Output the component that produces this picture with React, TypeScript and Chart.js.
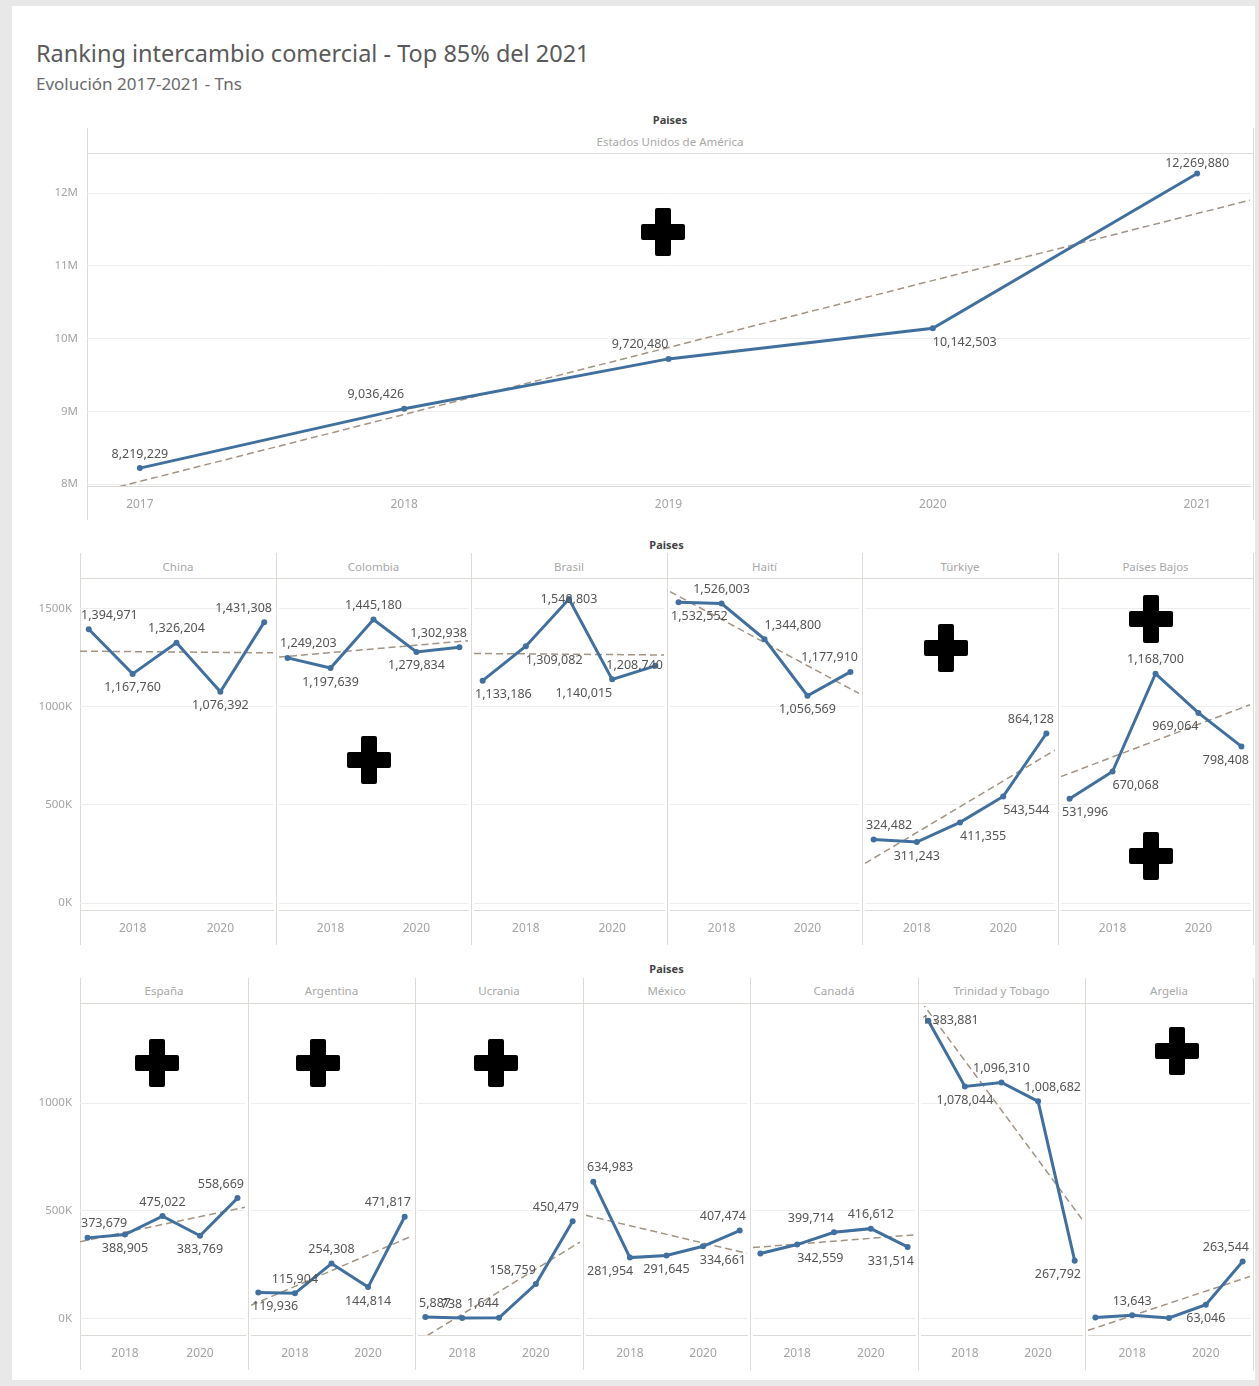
import React, { useEffect, useRef } from 'react';
import { Chart, registerables } from 'chart.js';

Chart.register(...registerables);

// ---------------- DATA ----------------
const YEARS = [2017, 2018, 2019, 2020, 2021];

const USA_VALUES = [8219229, 9036426, 9720480, 10142503, 12269880];

const CHINA_VALUES = [1394971, 1167760, 1326204, 1076392, 1431308];
const COLOMBIA_VALUES = [1249203, 1197639, 1445180, 1279834, 1302938];
const BRASIL_VALUES = [1133186, 1309082, 1548803, 1140015, 1208740];
const HAITI_VALUES = [1532552, 1526003, 1344800, 1056569, 1177910];
const TURKIYE_VALUES = [324482, 311243, 411355, 543544, 864128];
const PAISES_BAJOS_VALUES = [531996, 670068, 1168700, 969064, 798408];

const ESPANA_VALUES = [373679, 388905, 475022, 383769, 558669];
const ARGENTINA_VALUES = [119936, 115904, 254308, 144814, 471817];
const UCRANIA_VALUES = [5887, 738, 1644, 158759, 450479];
const MEXICO_VALUES = [634983, 281954, 291645, 334661, 407474];
const CANADA_VALUES = [300941, 342559, 399714, 416612, 331514];
const TRINIDAD_VALUES = [1383881, 1078044, 1096310, 1008682, 267792];
const ARGELIA_VALUES = [3163, 13643, 1248, 63046, 263544];

const ROW1_NAMES = ['Estados Unidos de América'];
const ROW2_NAMES = ['China', 'Colombia', 'Brasil', 'Haití', 'Türkiye', 'Países Bajos'];
const ROW3_NAMES = ['España', 'Argentina', 'Ucrania', 'México', 'Canadá', 'Trinidad y Tobago', 'Argelia'];

const ROW1_SERIES = [USA_VALUES];
const ROW2_SERIES = [CHINA_VALUES, COLOMBIA_VALUES, BRASIL_VALUES, HAITI_VALUES, TURKIYE_VALUES, PAISES_BAJOS_VALUES];
const ROW3_SERIES = [ESPANA_VALUES, ARGENTINA_VALUES, UCRANIA_VALUES, MEXICO_VALUES, CANADA_VALUES, TRINIDAD_VALUES, ARGELIA_VALUES];

const USA_Y_TICKS = [8000000, 9000000, 10000000, 11000000, 12000000];
const ROW2_Y_TICKS = [0, 500000, 1000000, 1500000];
const ROW3_Y_TICKS = [0, 500000, 1000000];
const USA_X_TICKS = [2017, 2018, 2019, 2020, 2021];
const SMALL_X_TICKS = [2018, 2020];

// ---------------- LABEL PLACEMENT (style) ----------------
const ROW1_LABEL_POS = [['t', 'tl', 'tl', 'br', 't']];
const ROW2_LABEL_POS = [
  ['t', 'b', 't', 'b', 't'],
  ['t', 'b', 't', 'b', 't'],
  ['b', 'br', 'c', 'bl', 'c'],
  ['b', 't', 'tr', 'b', 't'],
  ['t', 'b', 'br', 'br', 't'],
  ['b', 'br', 't', 'bl', 'b'],
];
const ROW3_LABEL_POS = [
  ['t', 'b', 't', 'b', 't'],
  ['b', 't', 't', 'b', 't'],
  ['t', 'tl', 'tl', 'tl', 't'],
  ['t', 'bl', 'b', 'br', 't'],
  ['', 'br', 'tl', 't', 'b'],
  ['c', 'b', 't', 'tr', 'b'],
  ['', 't', '', 'b', 't'],
];

// ---------------- STYLE ----------------
const FONT = '"Noto Sans", sans-serif';
const LINE_COLOR = '#41709f';
const TREND_COLOR = '#a39484';
const GRID_COLOR = '#eeeeee';
const RULE_COLOR = '#dedad6';
const AXIS_TEXT = '#a4a4a4';
const LABEL_TEXT = '#555555';
const X_MIN = 2016.8;
const X_MAX = 2021.2;

const ROWS = [
  { names: ROW1_NAMES, series: ROW1_SERIES, labelPos: ROW1_LABEL_POS, top: 153, bottom: 486, left: 87, right: 1253,
    yMin: 7973000, yMax: 12510000, yTicks: USA_Y_TICKS, xTicks: USA_X_TICKS, fmt: (v: number) => v / 1000000 + 'M', yPad: 9,
    headerY: 119, nameY: 142, lineTop: 128, lineBottom: 520 },
  { names: ROW2_NAMES, series: ROW2_SERIES, labelPos: ROW2_LABEL_POS, top: 578, bottom: 910, left: 80, right: 1253,
    yMin: -35000, yMax: 1641000, yTicks: ROW2_Y_TICKS, xTicks: SMALL_X_TICKS, fmt: (v: number) => v / 1000 + 'K', yPad: 8,
    headerY: 544, nameY: 567, lineTop: 553, lineBottom: 945 },
  { names: ROW3_NAMES, series: ROW3_SERIES, labelPos: ROW3_LABEL_POS, top: 1003, bottom: 1335, left: 80, right: 1253,
    yMin: -78000, yMax: 1452000, yTicks: ROW3_Y_TICKS, xTicks: SMALL_X_TICKS, fmt: (v: number) => v / 1000 + 'K', yPad: 8,
    headerY: 968, nameY: 991, lineTop: 978, lineBottom: 1370 },
];

const CROSS_CENTERS = [
  [663, 232], [369, 760], [946, 648], [1151, 619], [1151, 856],
  [157, 1063], [318, 1063], [496, 1063], [1177, 1051],
];

function linearTrend(xs: number[], ys: number[]) {
  const n = xs.length;
  const mx = xs.reduce((a, b) => a + b, 0) / n;
  const my = ys.reduce((a, b) => a + b, 0) / n;
  let sxy = 0, sxx = 0;
  for (let i = 0; i < n; i++) { sxy += (xs[i] - mx) * (ys[i] - my); sxx += (xs[i] - mx) ** 2; }
  const b = sxy / sxx;
  return [X_MIN, X_MAX].map((x) => ({ x, y: my + b * (x - mx) }));
}

type PanelProps = {
  values: number[]; labelPos: string[]; canvasLeft: number; canvasTop: number; width: number; height: number;
  yAxisWidth: number; row: any;
};

function Panel(p: PanelProps) {
  const ref = useRef<HTMLCanvasElement>(null);
  useEffect(() => {
    const row = p.row;
    const labelPlugin = {
      id: 'pointLabels',
      afterDatasetsDraw(chart: any) {
        const meta = chart.getDatasetMeta(0);
        const ctx = chart.ctx;
        const { left, right, top, bottom } = chart.chartArea;
        ctx.save();
        ctx.font = '12.5px ' + FONT;
        ctx.fillStyle = LABEL_TEXT;
        ctx.textBaseline = 'middle';
        ctx.textAlign = 'left';
        meta.data.forEach((pt: any, i: number) => {
          const pos = p.labelPos[i];
          if (!pos) return;
          const text = p.values[i].toLocaleString('en-US');
          const w = ctx.measureText(text).width;
          const off = 14;
          let lx = pt.x - w / 2;
          let y = pt.y;
          if (pos[0] === 't') y = pt.y - off;
          if (pos[0] === 'b') y = pt.y + off;
          const h = pos.length > 1 ? pos[1] : pos;
          if (h === 'l') lx = pt.x - w;
          if (h === 'r') lx = pt.x;
          lx = Math.max(left + 1, Math.min(right - w - 1, lx));
          y = Math.max(top + 7, Math.min(bottom - 7, y));
          ctx.fillText(text, lx, y);
        });
        ctx.restore();
      },
    };
    const chart = new Chart(ref.current!, {
      type: 'line',
      data: {
        datasets: [
          {
            data: YEARS.map((x, i) => ({ x, y: p.values[i] })),
            borderColor: LINE_COLOR, backgroundColor: LINE_COLOR, borderWidth: 3,
            pointRadius: 3, pointHoverRadius: 3, pointBorderWidth: 0, tension: 0, order: 0,
          },
          {
            data: linearTrend(YEARS, p.values),
            borderColor: TREND_COLOR, borderWidth: 1.5, borderDash: [7, 4], pointRadius: 0, order: 1,
          },
        ],
      },
      options: {
        responsive: false, animation: false, events: [],
        layout: { padding: 0 },
        plugins: { legend: { display: false }, tooltip: { enabled: false }, title: { display: false } },
        scales: {
          x: {
            type: 'linear', min: X_MIN, max: X_MAX,
            grid: { display: false, drawTicks: false },
            border: { display: true, color: RULE_COLOR, width: 1 },
            ticks: { color: AXIS_TEXT, font: { size: 12, family: FONT }, padding: 11, maxRotation: 0, callback: (v: any) => String(v) },
            afterBuildTicks: (s: any) => { s.ticks = row.xTicks.map((v: number) => ({ value: v })); },
            afterFit: (s: any) => { s.height = 40; s.paddingLeft = 0; s.paddingRight = 0; },
          },
          y: {
            type: 'linear', min: row.yMin, max: row.yMax,
            grid: { color: GRID_COLOR, drawTicks: false, lineWidth: 1 },
            border: { display: false },
            ticks: { display: p.yAxisWidth > 0, color: AXIS_TEXT, font: { size: 11.5, family: FONT }, padding: row.yPad, callback: (v: any) => row.fmt(Number(v)) },
            afterBuildTicks: (s: any) => { s.ticks = row.yTicks.map((v: number) => ({ value: v })); },
            afterFit: (s: any) => { s.width = p.yAxisWidth; s.paddingTop = 0; s.paddingBottom = 0; },
          },
        },
      },
      plugins: [labelPlugin],
    } as any);
    return () => chart.destroy();
  }, []);
  return (
    <canvas
      ref={ref}
      width={p.width}
      height={p.height}
      style={{ position: 'absolute', left: p.canvasLeft, top: p.canvasTop, width: p.width, height: p.height }}
    />
  );
}

function Text(props: { x: number; y: number; size: number; color: string; bold?: boolean; center?: boolean; children: any }) {
  return (
    <div
      style={{
        position: 'absolute', left: props.x, top: props.y, transform: props.center ? 'translate(-50%, -50%)' : 'translate(0, -50%)',
        fontFamily: FONT, fontSize: props.size, color: props.color, fontWeight: props.bold ? 700 : 400,
        whiteSpace: 'nowrap', lineHeight: 1,
      }}
    >
      {props.children}
    </div>
  );
}

function Cross({ cx, cy }: { cx: number; cy: number }) {
  return (
    <div style={{ position: 'absolute', left: cx - 22, top: cy - 24, width: 44, height: 48 }}>
      <div style={{ position: 'absolute', left: 14, top: 0, width: 16, height: 48, background: '#000', borderRadius: 2 }} />
      <div style={{ position: 'absolute', left: 0, top: 16, width: 44, height: 16, background: '#000', borderRadius: 2 }} />
    </div>
  );
}

export default function App() {
  const items: any[] = [];
  ROWS.forEach((row, r) => {
    const n = row.names.length;
    const pw = (row.right - row.left) / n;
    const edges = Array.from({ length: n + 1 }, (_, i) => Math.round(row.left + i * pw));
    items.push(<Text key={`h${r}`} x={(row.left + row.right) / 2} y={row.headerY} size={11} color="#444" bold center>Paises</Text>);
    items.push(<div key={`hl${r}`} style={{ position: 'absolute', left: row.left, top: row.top, width: row.right - row.left, height: 1, background: RULE_COLOR }} />);
    edges.forEach((e, i) => {
      items.push(<div key={`v${r}-${i}`} style={{ position: 'absolute', left: e, top: row.lineTop, width: 1, height: row.lineBottom - row.lineTop, background: RULE_COLOR }} />);
    });
    row.names.forEach((name, i) => {
      const l = edges[i];
      const rr = edges[i + 1];
      items.push(<Text key={`n${r}-${i}`} x={(l + rr) / 2} y={row.nameY} size={11.5} color="#a8a8a8" center>{name}</Text>);
      const yW = i === 0 ? l : 0;
      items.push(
        <Panel
          key={`p${r}-${i}`}
          values={row.series[i]}
          labelPos={row.labelPos[i]}
          canvasLeft={i === 0 ? 0 : l}
          canvasTop={row.top}
          width={yW + (rr - l)}
          height={row.bottom - row.top + 40}
          yAxisWidth={yW}
          row={row}
        />
      );
    });
  });

  return (
    <div style={{ position: 'absolute', left: 0, top: 0, width: 1259, height: 1386, background: '#e8e8e8', overflow: 'hidden' }}>
      <div style={{ position: 'absolute', left: 12, top: 6, width: 1243, height: 1374, background: '#ffffff' }} />
      <Text x={36} y={54} size={23.5} color="#5a5a5a">Ranking intercambio comercial - Top 85% del 2021</Text>
      <Text x={36} y={83} size={17} color="#6a6a6a">Evolución 2017-2021 - Tns</Text>
      {items}
      {CROSS_CENTERS.map(([cx, cy], i) => <Cross key={`c${i}`} cx={cx} cy={cy} />)}
    </div>
  );
}
